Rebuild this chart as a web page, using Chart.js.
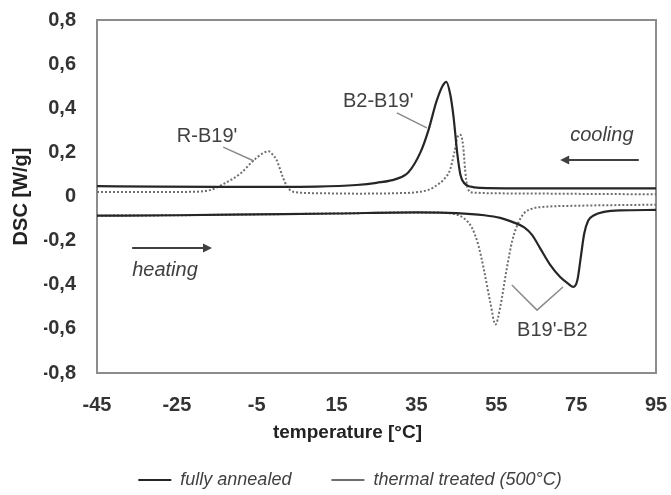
<!DOCTYPE html>
<html>
<head>
<meta charset="utf-8">
<script src="https://cdn.jsdelivr.net/npm/chart.js@4.4.1/dist/chart.umd.min.js"></script>
<style>
  html, body { margin: 0; padding: 0; background: #fff; }
</style>
</head>
<body>
<canvas id="myChart" width="671" height="495"></canvas>
<script>
// temperatures [°C] and heat flow [W/g]
const annealedCoolT = [-45, -30, -15, 0, 10, 20, 25, 30, 33, 36, 38, 40, 41.5, 42.5, 43.5, 44.3, 45.2, 46, 47, 48.5, 51, 60, 75, 95];
const annealedCoolY = [0.047, 0.045, 0.044, 0.044, 0.045, 0.052, 0.062, 0.08, 0.11, 0.2, 0.3, 0.43, 0.5, 0.52, 0.46, 0.36, 0.2, 0.1, 0.06, 0.045, 0.039, 0.037, 0.037, 0.037];

const treatedCoolT = [-45, -30, -20, -16.5, -13, -9, -6, -3.5, -2, -1, 0, 1.5, 2.6, 4.5, 10, 20, 30, 38, 40, 42, 43.4, 44.5, 45.3, 46, 46.7, 47.2, 47.8, 49, 60, 75, 95];
const treatedCoolY = [0.02, 0.02, 0.022, 0.03, 0.06, 0.105, 0.16, 0.195, 0.205, 0.19, 0.165, 0.09, 0.045, 0.02, 0.015, 0.013, 0.015, 0.03, 0.05, 0.08, 0.12, 0.2, 0.27, 0.28, 0.23, 0.12, 0.04, 0.018, 0.014, 0.012, 0.01];

const annealedHeatT = [-45, -25, -5, 15, 35, 45, 52, 56, 59, 62, 64, 66, 68.5, 71, 73, 74.3, 75.3, 76.2, 77, 78, 79.5, 82, 86, 95];
const annealedHeatY = [-0.087, -0.085, -0.081, -0.077, -0.072, -0.075, -0.085, -0.097, -0.115, -0.14, -0.175, -0.235, -0.31, -0.365, -0.395, -0.41, -0.38, -0.27, -0.17, -0.11, -0.085, -0.07, -0.063, -0.061];

const treatedHeatT = [-45, -25, -5, 15, 35, 42, 45, 47, 49, 50.5, 52, 53.5, 54.8, 56, 57.5, 59, 60.5, 62, 64, 67, 75, 95];
const treatedHeatY = [-0.087, -0.085, -0.081, -0.077, -0.072, -0.074, -0.082, -0.1, -0.145, -0.22, -0.34, -0.48, -0.58, -0.5, -0.34, -0.2, -0.12, -0.075, -0.055, -0.047, -0.042, -0.037];

const seriesNames = ['fully annealed', 'thermal treated (500°C)'];
const xTicks = [-45, -25, -5, 15, 35, 55, 75, 95];
const yTicks = [-0.8, -0.6, -0.4, -0.2, 0, 0.2, 0.4, 0.6, 0.8];
const yTickLabels = ['-0,8', '-0,6', '-0,4', '-0,2', '0', '0,2', '0,4', '0,6', '0,8'];

const FONT = '"Liberation Sans", Arial, sans-serif';

function pts(t, v) {
    return t.map(function (tt, i) { return { x: tt, y: v[i] }; });
}

// frame round the plot + peak labels, leader lines and arrows
const extras = {
    id: 'extras',
    beforeDatasetsDraw(chart) {
        const { ctx, chartArea: a } = chart;
        ctx.save();
        ctx.strokeStyle = '#8c8c8c';
        ctx.lineWidth = 2;
        ctx.strokeRect(a.left, a.top, a.right - a.left, a.bottom - a.top);
        ctx.restore();
    },
    afterDatasetsDraw(chart) {
        const { ctx } = chart;
        const x = chart.scales.x, y = chart.scales.y;
        const px = v => x.getPixelForValue(v);
        const py = v => y.getPixelForValue(v);

        ctx.save();
        ctx.strokeStyle = '#8a8a8a';
        ctx.lineWidth = 1.5;
        function line(p) {
            ctx.beginPath();
            p.forEach(function (q, i) {
                if (i) ctx.lineTo(px(q[0]), py(q[1]));
                else ctx.moveTo(px(q[0]), py(q[1]));
            });
            ctx.stroke();
        }
        line([[-13.4, 0.224], [-5.7, 0.161]]);
        line([[30.1, 0.379], [37.6, 0.311]]);
        line([[58.9, -0.401], [65.2, -0.515], [71.7, -0.41]]);

        ctx.fillStyle = '#404040';
        ctx.textAlign = 'left';
        ctx.textBaseline = 'alphabetic';
        ctx.font = '20px ' + FONT;
        ctx.fillText("R-B19'", px(-25), py(0.247));
        ctx.fillText("B2-B19'", px(16.6), py(0.406));
        ctx.fillText("B19'-B2", px(60.2), py(-0.632));

        ctx.font = 'italic 20px ' + FONT;
        ctx.fillText('cooling', px(73.5), py(0.252));
        ctx.fillText('heating', px(-36.2), py(-0.36));

        function arrow(x1, x2, yv) {
            const a = px(x1), b = px(x2), c = py(yv);
            const dir = b > a ? 1 : -1;
            ctx.strokeStyle = '#404040';
            ctx.lineWidth = 2;
            ctx.beginPath();
            ctx.moveTo(a, c);
            ctx.lineTo(b - dir * 6, c);
            ctx.stroke();
            ctx.fillStyle = '#404040';
            ctx.beginPath();
            ctx.moveTo(b, c);
            ctx.lineTo(b - dir * 9, c - 4.5);
            ctx.lineTo(b - dir * 9, c + 4.5);
            ctx.closePath();
            ctx.fill();
        }
        arrow(90.7, 71.0, 0.165);
        arrow(-36.2, -16.2, -0.233);
        ctx.restore();
    }
};

const solid = { borderColor: '#262626', borderWidth: 2.2, pointRadius: 0, cubicInterpolationMode: 'monotone', fill: false };
const dotted = { borderColor: '#6e6e6e', borderWidth: 2, borderDash: [2, 2], pointRadius: 0, cubicInterpolationMode: 'monotone', fill: false };

const config = {
    type: 'line',
    data: {
        datasets: [
            Object.assign({ label: seriesNames[0], data: pts(annealedCoolT, annealedCoolY) }, solid),
            Object.assign({ label: seriesNames[1], data: pts(treatedCoolT, treatedCoolY) }, dotted),
            Object.assign({ label: seriesNames[0], data: pts(annealedHeatT, annealedHeatY) }, solid),
            Object.assign({ label: seriesNames[1], data: pts(treatedHeatT, treatedHeatY) }, dotted)
        ]
    },
    options: {
        responsive: false,
        animation: false,
        layout: { padding: { left: 44, right: 15, top: 20, bottom: -4 } },
        plugins: {
            tooltip: { enabled: false },
            legend: {
                position: 'bottom',
                labels: {
                    filter: item => item.datasetIndex < 2,
                    usePointStyle: true,
                    pointStyle: 'line',
                    pointStyleWidth: 33,
                    padding: 40,
                    color: '#404040',
                    font: { family: FONT, size: 18, style: 'italic' }
                }
            }
        },
        scales: {
            x: {
                type: 'linear',
                min: -45,
                max: 95,
                afterBuildTicks: s => { s.ticks = xTicks.map(v => ({ value: v })); },
                afterFit: s => { s.height = 58; s.paddingLeft = 0; s.paddingRight = 0; },
                grid: { display: false, drawTicks: false },
                border: { display: false },
                ticks: {
                    autoSkip: false,
                    maxRotation: 0,
                    padding: 20,
                    color: '#333',
                    font: { family: FONT, size: 20, weight: 'bold' },
                    callback: v => String(v)
                },
                title: {
                    display: true,
                    // trailing spaces nudge the centred title left, as in the original
                    text: 'temperature [°C]           ',
                    color: '#222',
                    padding: { top: 0, bottom: -13.4 },
                    font: { family: FONT, size: 19, weight: 'bold' }
                }
            },
            y: {
                min: -0.8,
                max: 0.8,
                afterBuildTicks: s => { s.ticks = yTicks.map(v => ({ value: v })); },
                afterFit: s => { s.width = 53; s.paddingTop = 0; s.paddingBottom = 0; },
                grid: { display: false, drawTicks: false },
                border: { display: false },
                ticks: {
                    autoSkip: false,
                    padding: 21,
                    color: '#333',
                    font: { family: FONT, size: 20, weight: 'bold' },
                    callback: (v, i) => yTickLabels[i]
                },
                title: {
                    display: true,
                    text: 'DSC [W/g]',
                    color: '#222',
                    padding: { top: -34.4, bottom: 0 },
                    font: { family: FONT, size: 20, weight: 'bold' }
                }
            }
        }
    },
    plugins: [extras]
};

new Chart(document.getElementById('myChart'), config);
</script>
</body>
</html>
